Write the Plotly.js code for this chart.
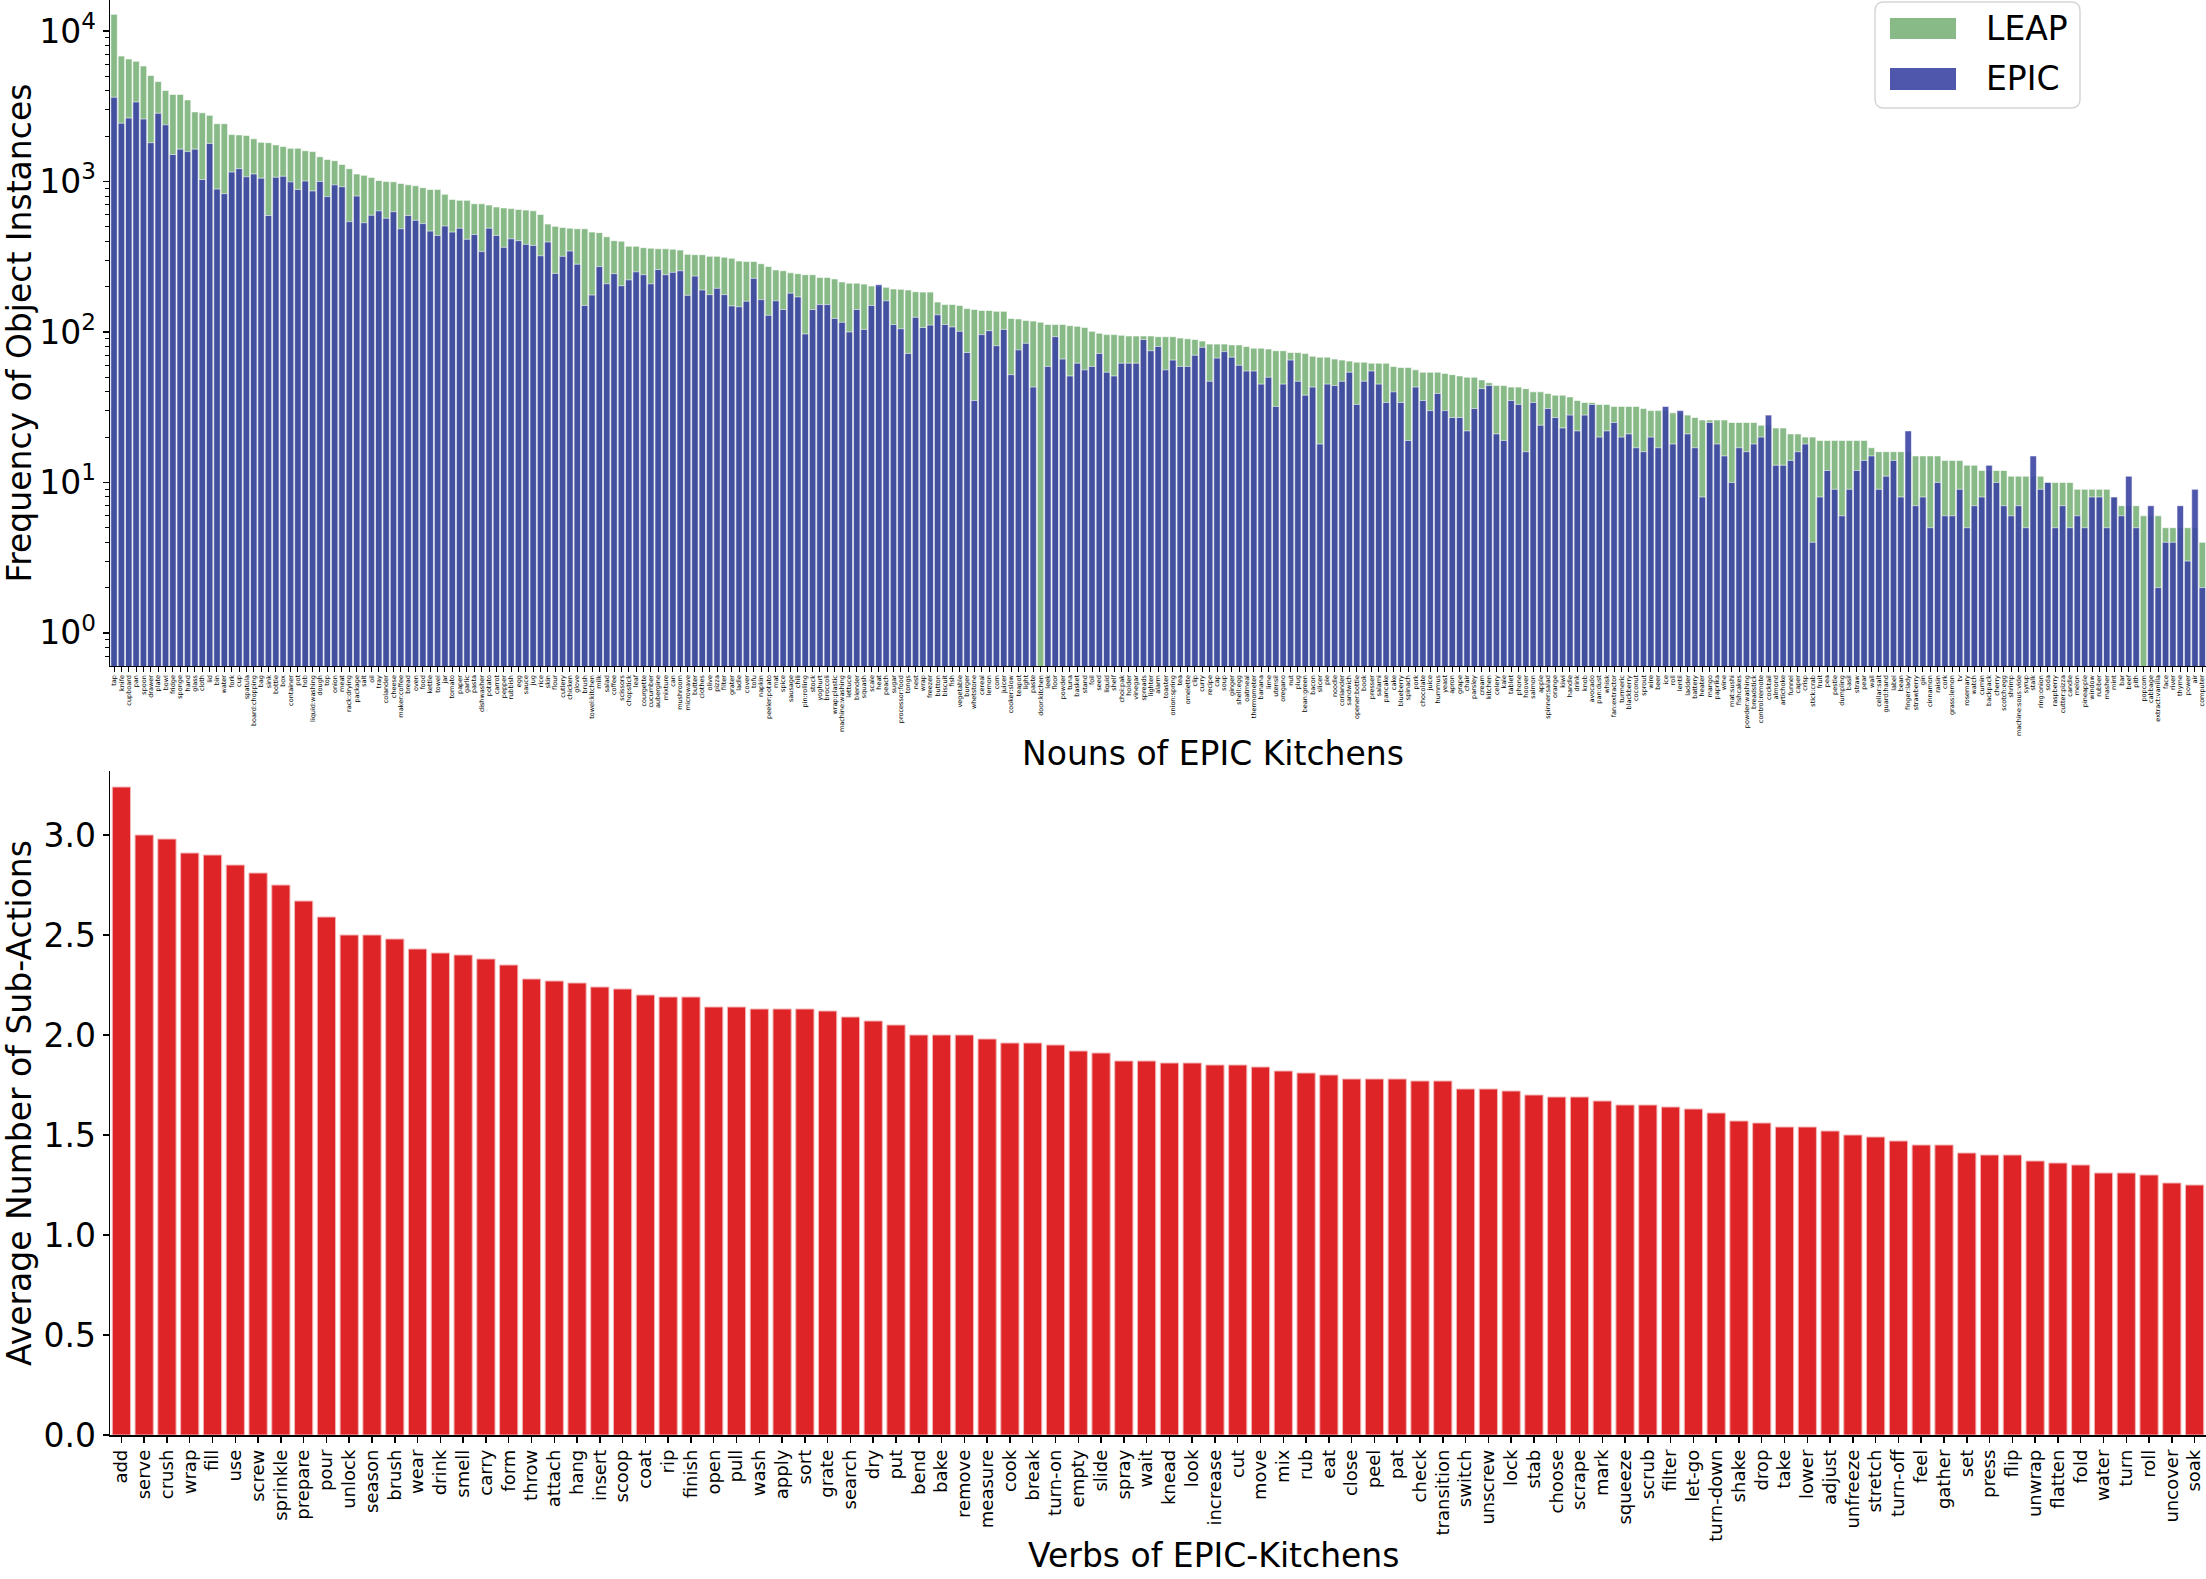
<!DOCTYPE html>
<html>
<head>
<meta charset="utf-8">
<script src="https://cdn.plot.ly/plotly-3.0.1.min.js"></script>
<style>
  body { margin: 0; background: white; }
  #graph { width: 2206px; height: 1579px; }
</style>
</head>
<body>
<div id="graph"></div>
<script>
// nouns of EPIC kitchens, sorted by LEAP count
const nouns = [
  "tap","knife","cupboard","pan","spoon","drawer","plate","bowl","fridge","sponge",
  "hand","glass","cloth","lid","bin","water","fork","cup","spatula","board:chopping",
  "bag","sink","bottle","box","container","pot","hob","liquid:washing","dough","top",
  "onion","meat","rack:drying","package","salt","oil",
  "tray","colander","cheese","maker:coffee","bread","oven","food","kettle","towel","jar",
  "tomato","paper","garlic","pasta","dishwasher","potato","carrot","pepper","rubbish","egg",
  "sauce","jug","rice","skin","flour","cutlery","chicken","glove","brush","towel:kitchen",
  "milk","salad","coffee","scissors","chopstick",
  "leaf","courgette","cucumber","aubergine","mixture","can","mushroom","microwave","butter","clothes",
  "olive","pizza","filter","grater","ladle","cover","tofu","napkin","peeler:potato","mat",
  "spice","sausage","chili","pin:rolling","stock","yoghurt","broccoli","wrap:plastic","machine:washing","lettuce",
  "blender","squash","scale","heat","peach","sugar",
  "processor:food","tongs","nest","wrap","freezer","button","biscuit","fish","vegetable","burger",
  "whetstone","cereal","lemon","corn","juicer","cooker:slow","teapot","light","paste","door:kitchen",
  "leek","floor","powder","tuna","basket","stand","foil","seed","liquid","shelf",
  "choi:pak","holder","vinegar","spreads","lighter","alarm",
  "toaster","onion:spring","tea","omelette","clip","curry","recipe","cap","soup","ginger",
  "shell:egg","oatmeal","thermometer","banana","lime","utensil","oregano","nut","plug","bean:green",
  "bacon","slicer","pie","noodle","coriander","sandwich","opener:bottle","book","presser","salami",
  "pancake","cake","blueberry","spinach","pork","chocolate",
  "juice","hummus","yeast","apron","grape","chair","parsley","cream","kitchen","celery",
  "kale","tablet","phone","hoover","salmon","apple","spinner:salad","orange","kiwi","handle",
  "drink","knob","avocado","pan:dust","whisk","fan:extractor","turmeric","blackberry","coconut","sprout",
  "wire","beer","ice","roll","lentil",
  "ladder","battery","heater","mango","paprika","wine","mat:sushi","fishcakes","powder:washing","breadstick",
  "control:remote","cocktail","almond","artichoke","funnel","caper","crisp","stick:crab","fruit","pea",
  "pestle","dumpling","basil","straw","pear","wall","cellar:salt","guard:hand","label","bean",
  "finger:lady","strawberry","gin","cinnamon","raisin","cork",
  "grass:lemon","tv","rosemary","watch","cumin","backpack","cherry","scotch:egg","shrimp","machine:sous:vide",
  "syrup","stalk","ring:onion","soda","raspberry","cutter:pizza","candle","melon","pineapple","window",
  "rubber","masher","mint","bar","beef","pith","popcorn","cabbage","extract:vanilla","face",
  "river","thyme","power","air","computer"
];

const leapCounts = [
  12900,6810,6520,6290,5850,5060,4610,4020,3790,3790,
  3480,2900,2860,2750,2420,2420,2050,2040,2020,1920,
  1820,1810,1750,1710,1660,1660,1600,1580,1460,1400,
  1375,1297,1216,1122,1099,1063,
  1015,1000,995,971,950,937,910,885,885,822,
  760,749,749,711,711,697,677,667,660,651,
  645,638,603,521,503,495,489,485,485,461,
  457,429,404,401,371,
  371,363,360,357,357,355,350,328,326,326,
  318,318,314,309,296,294,294,284,272,258,
  255,247,244,240,240,230,230,225,215,211,
  211,208,202,200,198,193,
  192,190,185,184,184,158,152,152,150,143,
  141,139,139,137,137,123,122,119,118,116,
  112,112,112,110,109,107,101,98,96,96,
  95,94,94,94,94,93,
  93,93,91,90,89,87,83,83,83,82,
  82,80,78,78,77,75,75,73,73,72,
  69,68,68,66,65,64,63,63,62,62,
  62,59,58,58,56,54,
  54,54,53,52,51,50,50,48,46,44,
  44,43,43,42,40,40,39,38,38,37,
  35,34,34,33,33,32,32,32,32,31,
  30,30,30,29,29,
  28,27,26,26,26,26,25,25,25,25,
  24,24,23,23,21,21,20,20,19,19,
  19,19,19,19,19,17,16,16,16,16,
  16,15,15,15,15,14,
  14,14,13,13,12,12,12,12,11,11,
  11,11,11,10,10,10,10,9,9,9,
  9,9,8,7,7,7,6,6,6,5,
  5,5,5,5,4
];

const epicCounts = [
  3630,2440,2640,3375,2600,1810,2840,2380,1510,1640,
  1580,1640,1030,1790,890,830,1155,1217,1075,1122,
  1052,594,1067,1083,994,885,1007,865,1000,793,
  950,923,541,800,532,596,
  638,570,630,485,594,552,525,468,438,506,
  461,489,413,444,342,489,438,365,416,404,
  382,376,321,396,245,318,345,282,150,176,
  272,209,244,203,222,
  251,240,209,260,240,249,255,175,235,190,
  177,195,177,149,147,160,227,164,129,161,
  141,181,171,97,141,152,152,123,116,100,
  141,104,150,206,161,112,
  105,72,125,107,111,130,112,108,101,73,
  35,96,102,81,104,52,76,84,43,0,
  59,93,66,51,62,56,59,72,54,51,
  62,62,62,89,75,80,
  56,65,59,59,70,79,47,67,74,68,
  60,55,55,45,50,32,45,65,47,38,
  43,18,45,44,47,54,33,47,55,45,
  34,40,34,19,43,35,
  30,39,30,27,27,22,31,42,44,21,
  19,35,33,16,34,24,31,27,23,28,
  22,28,33,20,22,25,20,21,17,16,
  20,17,32,18,30,
  21,17,8,25,18,15,10,17,16,18,
  20,28,13,13,14,16,18,4,8,12,
  9,6,9,12,14,15,9,11,14,8,
  22,7,8,5,10,6,
  6,9,5,7,8,13,10,7,6,7,
  5,15,9,10,5,7,5,6,5,8,
  8,5,8,6,11,5,0,7,2,4,
  4,7,3,9,2
];

// verbs of EPIC-Kitchens and their average number of sub-actions
const verbs = [
  "add","serve","crush","wrap","fill","use","screw","sprinkle","prepare","pour",
  "unlock","season","brush","wear","drink","smell","carry","form","throw","attach",
  "hang","insert","scoop","coat","rip","finish","open","pull","wash","apply",
  "sort","grate","search","dry","put","bend","bake","remove","measure","cook",
  "break","turn-on","empty","slide","spray","wait","knead","look","increase","cut",
  "move","mix","rub","eat","close","peel","pat","check","transition","switch",
  "unscrew","lock","stab","choose","scrape","mark","squeeze","scrub","filter","let-go",
  "turn-down","shake","drop","take","lower","adjust","unfreeze","stretch","turn-off","feel",
  "gather","set","press","flip","unwrap","flatten","fold","water","turn","roll",
  "uncover","soak"
];

const subActions = [
  3.24,3.00,2.98,2.91,2.90,2.85,2.81,2.75,2.67,2.59,
  2.50,2.50,2.48,2.43,2.41,2.40,2.38,2.35,2.28,2.27,
  2.26,2.24,2.23,2.20,2.19,2.19,2.14,2.14,2.13,2.13,
  2.13,2.12,2.09,2.07,2.05,2.00,2.00,2.00,1.98,1.96,
  1.96,1.95,1.92,1.91,1.87,1.87,1.86,1.86,1.85,1.85,
  1.84,1.82,1.81,1.80,1.78,1.78,1.78,1.77,1.77,1.73,
  1.73,1.72,1.70,1.69,1.69,1.67,1.65,1.65,1.64,1.63,
  1.61,1.57,1.56,1.54,1.54,1.52,1.50,1.49,1.47,1.45,
  1.45,1.41,1.40,1.40,1.37,1.36,1.35,1.31,1.31,1.30,
  1.26,1.25
];

const seriesNames = ["LEAP", "EPIC"];
const leapColor = "#87ba87";
const epicColor = "rgba(60,69,163,0.9)";
const verbColor = "#de2427";

// minor ticks of the log axis (2..9 of every decade)
let minorTicks = [0.6, 0.7, 0.8, 0.9];
for (let p = 1; p <= 1000; p *= 10) {
    for (let d = 2; d <= 9; d++) minorTicks.push(d * p);
}

let data = [
    {
        type: "bar", name: seriesNames[0], x: nouns, y: leapCounts,
        xaxis: "x", yaxis: "y", width: 0.88,
        marker: {color: leapColor, line: {color: "white", width: 0.6}}
    },
    {
        type: "bar", name: seriesNames[1], x: nouns, y: epicCounts.map(v => v > 0 ? v : null),
        xaxis: "x", yaxis: "y", width: 0.88,
        marker: {color: epicColor, line: {color: "white", width: 0.6}}
    },
    {
        type: "bar", name: "verbs", x: verbs, y: subActions,
        xaxis: "x2", yaxis: "y2", width: 0.8,
        marker: {color: verbColor, line: {color: "#f4b6b6", width: 1}}
    }
];

const font = "DejaVu Sans, Verdana, sans-serif";

// legend box drawn by hand (matplotlib style: wide swatches, rounded frame)
// paper coords of the plot area (110..2206 px wide, 0..1435 px high)
function px(X) { return (X - 110) / 2096; }
function py(Y) { return (1435 - Y) / 1435; }
function roundedBox(x0, y0, x1, y1, r) {
    let rx = r / 2096, ry = r / 1435;
    let a = px(x0), b = px(x1), top = py(y0), bot = py(y1);
    return "M" + (a + rx) + "," + top + " L" + (b - rx) + "," + top +
        " Q" + b + "," + top + " " + b + "," + (top - ry) +
        " L" + b + "," + (bot + ry) + " Q" + b + "," + bot + " " + (b - rx) + "," + bot +
        " L" + (a + rx) + "," + bot + " Q" + a + "," + bot + " " + a + "," + (bot + ry) +
        " L" + a + "," + (top - ry) + " Q" + a + "," + top + " " + (a + rx) + "," + top + " Z";
}

let shapes = [
    {type: "path", xref: "paper", yref: "paper", path: roundedBox(1875, 2, 2080, 108, 9),
     fillcolor: "rgba(255,255,255,0.85)", line: {color: "#d6d6d6", width: 1.5}},
    {type: "rect", xref: "paper", yref: "paper", x0: px(1890), x1: px(1956), y0: py(39), y1: py(18),
     fillcolor: leapColor, line: {width: 0}},
    {type: "rect", xref: "paper", yref: "paper", x0: px(1890), x1: px(1956), y0: py(90), y1: py(68),
     fillcolor: epicColor, line: {width: 0}}
];

let annotations = [
    {xref: "paper", yref: "paper", x: px(1984), y: py(28), xanchor: "left", yanchor: "middle",
     text: seriesNames[0], showarrow: false, font: {size: 33}},
    {xref: "paper", yref: "paper", x: px(1984), y: py(79), xanchor: "left", yanchor: "middle",
     text: seriesNames[1], showarrow: false, font: {size: 33}},
    // axis titles are centred on the full (cropped) matplotlib axes
    {xref: "paper", yref: "paper", x: px(1213), y: py(753), xanchor: "center", yanchor: "middle",
     text: "Nouns of EPIC Kitchens", showarrow: false, font: {size: 33}},
    {xref: "paper", yref: "paper", x: px(1213), y: py(1555), xanchor: "center", yanchor: "middle",
     text: "Verbs of EPIC-Kitchens", showarrow: false, font: {size: 33}}
];

let layout = {
    width: 2206,
    height: 1579,
    margin: {l: 110, r: 0, t: 0, b: 144, pad: 0},
    paper_bgcolor: "white",
    plot_bgcolor: "white",
    font: {family: font, color: "black", size: 33},
    barmode: "overlay",
    showlegend: false,
    shapes: shapes,
    annotations: annotations,
    xaxis: {
        domain: [0, 1], anchor: "y", type: "category",
        range: [-0.55, 284.5],
        tickmode: "linear", tick0: 0, dtick: 1,
        tickangle: -90, tickfont: {size: 6.5},
        ticks: "outside", ticklen: 5, tickwidth: 1, tickcolor: "black",
        showline: true, linecolor: "black", linewidth: 1.5,
        showgrid: false, zeroline: false
    },
    yaxis: {
        domain: [0.5359, 1], anchor: "x", type: "log",
        range: [-0.22, 4.206],
        tickmode: "array",
        tickvals: [1, 10, 100, 1000, 10000],
        ticktext: ["10<sup>0</sup>", "10<sup>1</sup>", "10<sup>2</sup>", "10<sup>3</sup>", "10<sup>4</sup>"],
        tickfont: {size: 33},
        ticks: "outside", ticklen: 6, tickwidth: 1.5, tickcolor: "black",
        minor: {tickmode: "array", tickvals: minorTicks, ticks: "outside", ticklen: 3.5, tickwidth: 1, tickcolor: "black"},
        showline: true, linecolor: "black", linewidth: 1.5,
        showgrid: false, zeroline: false,
        title: {text: "Frequency of Object Instances", font: {size: 33}, standoff: 10}
    },
    xaxis2: {
        domain: [0, 1], anchor: "y2", type: "category",
        range: [-0.5, 91.5],
        tickmode: "linear", tick0: 0, dtick: 1,
        tickangle: -90, tickfont: {size: 18},
        ticks: "outside", ticklen: 6, tickwidth: 1.5, tickcolor: "black",
        showline: true, linecolor: "black", linewidth: 1.5,
        showgrid: false, zeroline: false
    },
    yaxis2: {
        domain: [0, 0.4627], anchor: "x2",
        range: [0, 3.32],
        tickmode: "linear", tick0: 0, dtick: 0.5, tickformat: ".1f",
        tickfont: {size: 33},
        ticks: "outside", ticklen: 6, tickwidth: 1.5, tickcolor: "black",
        showline: true, linecolor: "black", linewidth: 1.5,
        showgrid: false, zeroline: false,
        title: {text: "Average Number of Sub-Actions", font: {size: 33}, standoff: 10}
    }
};

Plotly.newPlot("graph", data, layout, {staticPlot: true});
</script>
</body>
</html>
